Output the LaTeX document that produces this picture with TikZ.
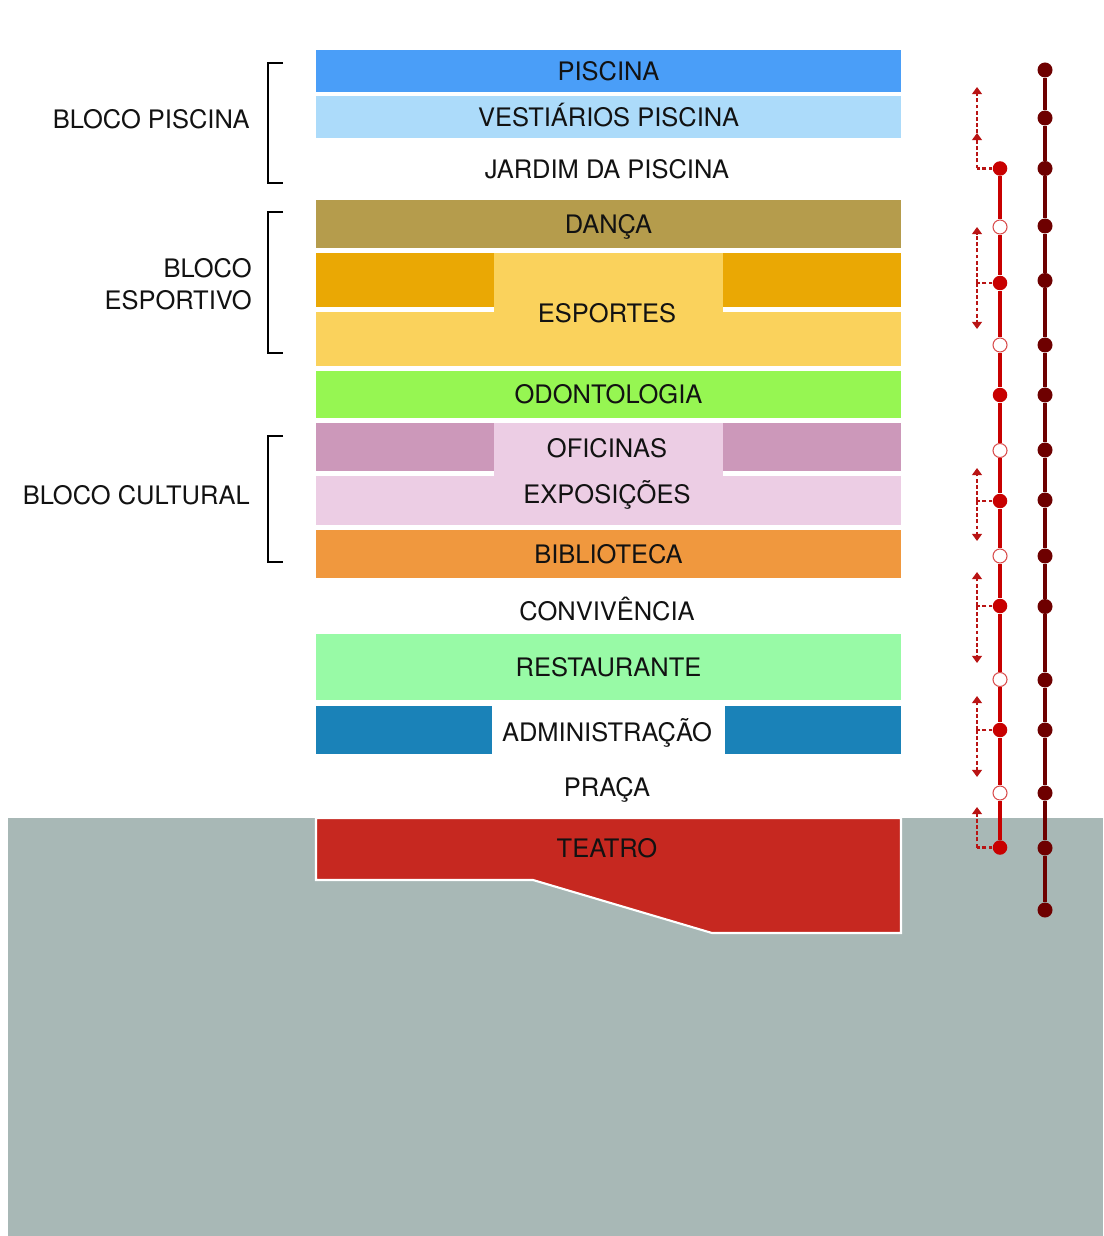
\documentclass[tikz,border=0pt]{standalone}
\usepackage{fontspec}
\setmainfont{TeX Gyre Heros}
\usetikzlibrary{arrows.meta}
\definecolor{PlanPiscina}{RGB}{74,158,248}
\definecolor{PlanVestiario}{RGB}{172,219,250}
\definecolor{PlanDanca}{RGB}{181,156,76}
\definecolor{PlanEsporteA}{RGB}{250,210,92}
\definecolor{PlanEsporteB}{RGB}{234,168,4}
\definecolor{PlanOdonto}{RGB}{150,246,82}
\definecolor{PlanOficina}{RGB}{204,152,186}
\definecolor{PlanExpo}{RGB}{236,205,228}
\definecolor{PlanBiblio}{RGB}{240,152,62}
\definecolor{PlanRest}{RGB}{152,250,166}
\definecolor{PlanAdmin}{RGB}{26,130,184}
\definecolor{PlanSolo}{RGB}{168,184,182}
\definecolor{PlanTeatro}{RGB}{198,40,32}
\definecolor{PlanInk}{RGB}{18,18,18}
\definecolor{FlowRed}{RGB}{200,0,0}
\definecolor{FlowDash}{RGB}{185,20,20}
\definecolor{FlowDark}{RGB}{110,0,0}

\begin{document}
\begin{tikzpicture}[
  band/.style={inner sep=0pt,minimum width=11.7cm,font=\fontsize{14.5}{16}\selectfont,text=PlanInk,align=center,text height=10.4pt,text depth=0pt},
  side/.style={inner sep=0pt,minimum width=3.56cm},
  label/.style={font=\fontsize{14.5}{16}\selectfont,text=PlanInk,inner sep=0pt,text height=10.4pt,text depth=0pt},
  grp/.style={font=\fontsize{14.5}{18.1}\selectfont,text=PlanInk,align=right,inner sep=0pt,anchor=east},
  brk/.style={line width=1.6pt,draw=black},
  gap/.style={line width=3pt,draw=white},
  odot/.style={circle,fill=FlowDark,inner sep=0pt,minimum size=0.3cm},
  idot/.style={circle,fill=FlowRed,inner sep=0pt,minimum size=0.29cm},
  hdot/.style={circle,fill=white,draw=FlowRed!70,line width=0.6pt,inner sep=0pt,minimum size=0.28cm},
  trunk/.style={line width=2.2pt,draw=FlowDark},
  branch/.style={line width=1.9pt,draw=FlowRed},
  dasharr/.style={line width=1.4pt,draw=FlowDash,dash pattern=on 2.2pt off 1.3pt,arrows={-Triangle[length=4pt,width=5.5pt,fill=FlowDash]}},
  dashlink/.style={line width=1.4pt,draw=FlowDash,dash pattern=on 2.2pt off 1.3pt}]
  \useasboundingbox (0,0) rectangle (22.06,-24.72);
  \fill[white] (0,0) rectangle (22.06,-24.72);
  \fill[PlanSolo] (0.16,-16.36) rectangle (22.06,-24.72);

  % bands
  \node[band,fill=PlanPiscina,minimum height=0.84cm] (pisc) at (12.17,-1.42) {PISCINA};
  \node[band,fill=PlanVestiario,minimum height=0.84cm] (vest) at (12.17,-2.34) {VESTIÁRIOS PISCINA};
  \node[label] (jard) at (12.14,-3.38) {JARDIM DA PISCINA};
  \node[band,fill=PlanDanca,minimum height=0.96cm] (danc) at (12.17,-4.48) {DANÇA};
  \node[band,fill=PlanEsporteA,minimum height=2.26cm] (espb) at (12.17,-6.19) {};
  \node[side,fill=PlanEsporteB,minimum height=1.08cm] (espl) at (8.10,-5.60) {};
  \node[side,fill=PlanEsporteB,minimum height=1.08cm] (espr) at (16.24,-5.60) {};
  \draw[gap] (6.32,-6.19) -- (9.88,-6.19) (14.46,-6.19) -- (18.02,-6.19);
  \node[label] (esp) at (12.14,-6.27) {ESPORTES};
  \node[band,fill=PlanOdonto,minimum height=0.94cm] (odon) at (12.17,-7.89) {ODONTOLOGIA};
  \node[band,fill=PlanExpo,minimum height=2.04cm] (expb) at (12.17,-9.48) {};
  \node[side,fill=PlanOficina,minimum height=0.96cm] (ofl) at (8.10,-8.94) {};
  \node[side,fill=PlanOficina,minimum height=0.96cm] (ofr) at (16.24,-8.94) {};
  \draw[gap] (6.32,-9.47) -- (9.88,-9.47) (14.46,-9.47) -- (18.02,-9.47);
  \node[label] (ofic) at (12.14,-8.96) {OFICINAS};
  \node[label] (expo) at (12.14,-9.88) {EXPOSIÇÕES};
  \node[band,fill=PlanBiblio,minimum height=0.96cm] (bibl) at (12.17,-11.08) {BIBLIOTECA};
  \node[label] (conv) at (12.14,-12.22) {CONVIVÊNCIA};
  \node[band,fill=PlanRest,minimum height=1.32cm] (rest) at (12.17,-13.34) {RESTAURANTE};
  \node[side,fill=PlanAdmin,minimum width=3.52cm,minimum height=0.96cm] (adml) at (8.08,-14.60) {};
  \node[side,fill=PlanAdmin,minimum width=3.52cm,minimum height=0.96cm] (admr) at (16.26,-14.60) {};
  \node[label] (admi) at (12.14,-14.64) {ADMINISTRAÇÃO};
  \node[label] (prac) at (12.14,-15.74) {PRAÇA};
  \filldraw[fill=PlanTeatro,draw=white,line width=1.2pt]
    (6.32,-16.36) -- (18.02,-16.36) -- (18.02,-18.66) -- (14.24,-18.66)
    -- (10.66,-17.60) -- (6.32,-17.60) -- cycle;
  \node[label] (teat) at (12.14,-16.96) {TEATRO};

  % groups
  \draw[brk] (5.66,-1.26) -- (5.36,-1.26) -- (5.36,-3.66) -- (5.66,-3.66);
  \draw[brk] (5.66,-4.24) -- (5.36,-4.24) -- (5.36,-7.06) -- (5.66,-7.06);
  \draw[brk] (5.66,-8.72) -- (5.36,-8.72) -- (5.36,-11.24) -- (5.66,-11.24);
  \node[grp] (gpisc) at (5.0,-2.38) {BLOCO PISCINA};
  \node[grp] (gesp) at (5.04,-5.68) {BLOCO\\ESPORTIVO};
  \node[grp] (gcult) at (5.0,-9.90) {BLOCO CULTURAL};

  % outer flow
  \foreach \y [count=\i] in {1.40,2.36,3.37,4.52,5.61,6.90,7.90,9.00,10.00,11.12,12.13,13.60,14.60,15.86,16.96,18.20}
    \node[odot] (o\i) at (20.90,-\y) {};
  \foreach \i [evaluate=\i as \j using int(\i+1)] in {1,...,15}
    \draw[trunk] (o\i) -- (o\j);

  % inner flow
  \foreach \y [count=\i] in {3.37,4.54,5.66,6.90,7.90,9.01,10.02,11.12,12.12,13.59,14.60,15.86,16.95} {
    \ifodd\i \node[idot] (i\i) at (20.00,-\y) {};
    \else \node[hdot] (i\i) at (20.00,-\y) {};
    \fi }
  \foreach \i [evaluate=\i as \j using int(\i+1)] in {1,...,12}
    \draw[branch] (i\i) -- (i\j);

  % access arrows
  \coordinate (a1) at (19.54,-3.37);
  \coordinate (a1m) at (19.54,-2.66);
  \coordinate (a1t) at (19.54,-1.74);
  \draw[dashlink] (i1) -- (a1);
  \draw[dasharr] (a1) -- (a1m);
  \draw[dasharr] (a1m) -- (a1t);
  \foreach \n/\m/\t/\b in {3/5.66/4.54/6.58, 7/10.02/9.36/10.82, 9/12.12/11.44/13.26, 11/14.60/13.92/15.54} {
    \coordinate (a\n) at (19.54,-\m);
    \coordinate (a\n t) at (19.54,-\t);
    \coordinate (a\n b) at (19.54,-\b);
    \draw[dashlink] (i\n) -- (a\n);
    \draw[dasharr] (a\n) -- (a\n t);
    \draw[dasharr] (a\n) -- (a\n b);
  }
  \coordinate (a13) at (19.54,-16.95);
  \coordinate (a13t) at (19.54,-16.14);
  \draw[dashlink] (i13) -- (a13);
  \draw[dasharr] (a13) -- (a13t);
\end{tikzpicture}
\end{document}
